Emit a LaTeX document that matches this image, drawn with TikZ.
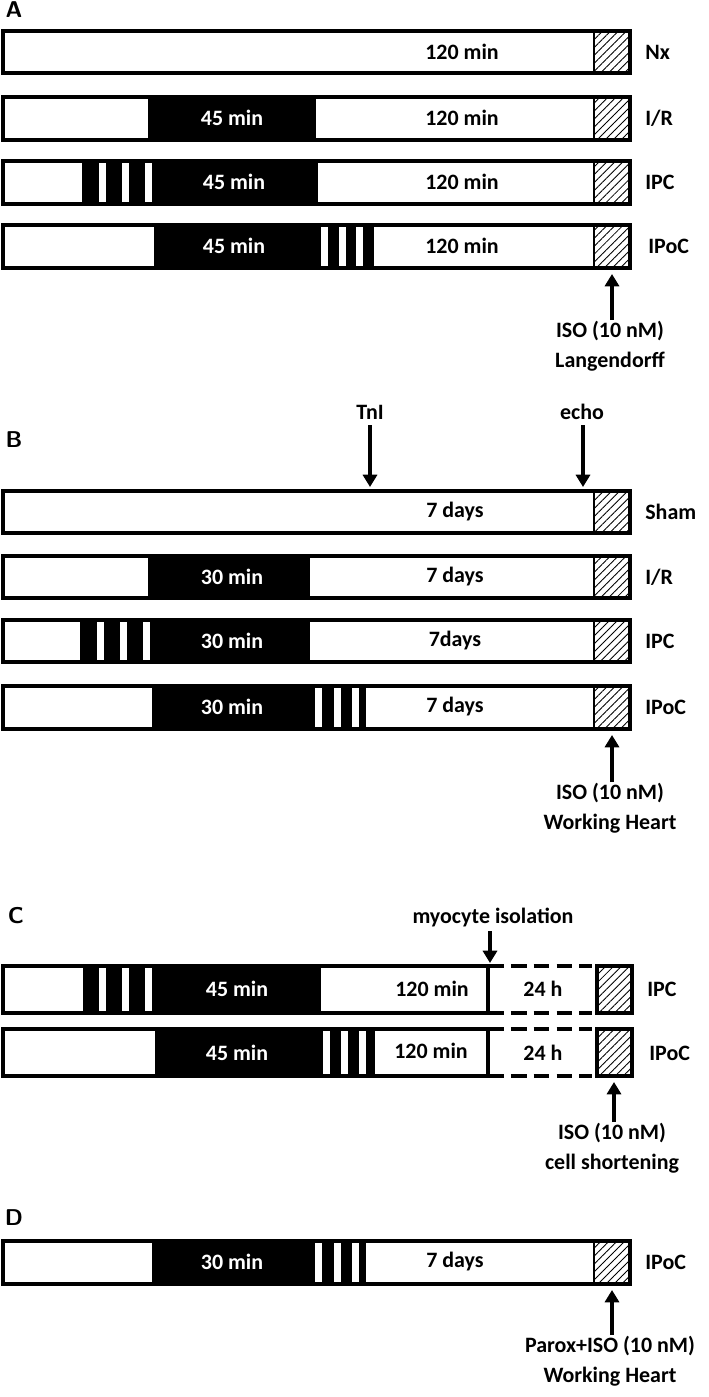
\documentclass[tikz,border=0pt]{standalone}
\usepackage{fontspec}
\setmainfont{Carlito}
\usetikzlibrary{patterns.meta,arrows.meta}
\newcommand{\stripes}[4]{\foreach \s in {0,1,2} \fill[white] (#1+\s*#4,#2) rectangle (#1+\s*#4+7,#3);}
\newcommand{\hatchbox}[4]{\fill[white] (#1,#2) rectangle (#3,#4);
  \fill[pattern={Lines[angle=45,distance=3.2pt,line width=0.5pt]}] (#1,#2) rectangle (#3,#4);
  \draw[line width=1.2pt] (#1,#2) -- (#1,#4);}
\begin{document}
\begin{tikzpicture}[x=0.02cm,y=-0.02cm,font=\fontsize{12.5}{14}\selectfont\bfseries]
  \tikzset{barline/.style = {line width=2.2pt},
           txt/.style = {inner sep=0pt},
           wtxt/.style = {inner sep=0pt,text=white},
           lbl/.style = {inner sep=0pt,anchor=west},
           panel/.style = {inner sep=0pt,font=\fontsize{13}{14}\selectfont\bfseries\sffamily},
           arr/.style = {line width=2.2pt,-{Triangle[length=7pt,width=8pt]}}};
  \useasboundingbox (0,0) rectangle (709,1397);
  % panel A
  \node[panel] (A) at (14,10) {A};
  \hatchbox{594}{31}{630}{73}
  \draw[barline] (3,31) rectangle (630,73);
  \node[txt] (a1t) at (462,52) {120 min};
  \node[lbl] (a1l) at (645,52) {Nx};
  \fill (148,97) rectangle (316,140);
  \hatchbox{594}{97}{630}{140}
  \draw[barline] (3,97) rectangle (630,140);
  \node[wtxt] (a2b) at (232,118) {45 min};
  \node[txt] (a2t) at (462,118) {120 min};
  \node[lbl] (a2l) at (645,118) {I/R};
  \fill (82,161) rectangle (318,204);
  \stripes{99}{161}{204}{23}
  \hatchbox{594}{161}{630}{204}
  \draw[barline] (3,161) rectangle (630,204);
  \node[wtxt] (a3b) at (234,182) {45 min};
  \node[txt] (a3t) at (462,182) {120 min};
  \node[lbl] (a3l) at (645,182) {IPC};
  \fill (154,225) rectangle (374,268);
  \stripes{321}{225}{268}{17.5}
  \hatchbox{594}{225}{630}{268}
  \draw[barline] (3,225) rectangle (630,268);
  \node[wtxt] (a4b) at (234,246) {45 min};
  \node[txt] (a4t) at (462,246) {120 min};
  \node[lbl] (a4l) at (648,246) {IPoC};
  \coordinate (a4h) at (612,274);
  \node[txt,align=center] (isoA) at (610,346) {ISO (10 nM)\\[3pt]Langendorff};
  \draw[arr] (612,320) -- (a4h);
  % panel B
  \node[panel] (B) at (14,440) {B};
  \node[txt] (tni) at (370,412) {TnI};
  \node[txt] (echo) at (582,412) {echo};
  \coordinate (tnih) at (370,487);
  \coordinate (echoh) at (583,487);
  \draw[arr] (370,425) -- (tnih);
  \draw[arr] (583,425) -- (echoh);
  \hatchbox{594}{491}{630}{533}
  \draw[barline] (3,491) rectangle (630,533);
  \node[txt] (b1t) at (455,512) {7 days};
  \node[lbl] (b1l) at (645,512) {Sham};
  \fill (148,556) rectangle (310,598);
  \hatchbox{594}{556}{630}{598}
  \draw[barline] (3,556) rectangle (630,598);
  \node[wtxt] (b2b) at (232,577) {30 min};
  \node[txt] (b2t) at (455,577) {7 days};
  \node[lbl] (b2l) at (645,577) {I/R};
  \fill (80,620) rectangle (310,662);
  \stripes{97}{620}{662}{23}
  \hatchbox{594}{620}{630}{662}
  \draw[barline] (3,620) rectangle (630,662);
  \node[wtxt] (b3b) at (232,641) {30 min};
  \node[txt] (b3t) at (455,641) {7days};
  \node[lbl] (b3l) at (645,641) {IPC};
  \fill (152,686) rectangle (366,729);
  \stripes{315}{686}{729}{18.5}
  \hatchbox{594}{686}{630}{729}
  \draw[barline] (3,686) rectangle (630,729);
  \node[wtxt] (b4b) at (232,707) {30 min};
  \node[txt] (b4t) at (455,707) {7 days};
  \node[lbl] (b4l) at (645,707) {IPoC};
  \coordinate (b4h) at (612,735);
  \node[txt,align=center] (isoB) at (610,808) {ISO (10 nM)\\[3pt]Working Heart};
  \draw[arr] (612,782) -- (b4h);
  % panel C
  \node[panel] (C) at (16,916) {C};
  \node[txt] (myo) at (493,917) {myocyte isolation};
  \coordinate (myoh) at (490,963);
  \draw[arr] (490,931) -- (myoh);
  \fill (83,966) rectangle (321,1013);
  \stripes{99}{966}{1013}{23}
  \hatchbox{597}{966}{632}{1013}
  \draw[barline] (597,966) rectangle (632,1013);
  \draw[barline] (488,966) -| (3,1013) -- (488,1013) -- cycle;
  \draw[barline,dash pattern=on 9pt off 4pt] (488,966) -- (592,966) (488,1013) -- (592,1013);
  \node[wtxt] (c1b) at (237,989) {45 min};
  \node[txt] (c1t) at (432,989) {120 min};
  \node[txt] (c1d) at (543,989) {24 h};
  \node[lbl] (c1l) at (647,989) {IPC};
  \fill (155,1029) rectangle (375,1076);
  \stripes{323}{1029}{1076}{18}
  \hatchbox{597}{1029}{632}{1076}
  \draw[barline] (597,1029) rectangle (632,1076);
  \draw[barline] (488,1029) -| (3,1076) -- (488,1076) -- cycle;
  \draw[barline,dash pattern=on 9pt off 4pt] (488,1029) -- (592,1029) (488,1076) -- (592,1076);
  \node[wtxt] (c2b) at (237,1053) {45 min};
  \node[txt] (c2t) at (431,1051) {120 min};
  \node[txt] (c2d) at (543,1053) {24 h};
  \node[lbl] (c2l) at (649,1053) {IPoC};
  \coordinate (c2h) at (614,1082);
  \node[txt,align=center] (isoC) at (612,1148) {ISO (10 nM)\\[3pt]cell shortening};
  \draw[arr] (614,1122) -- (c2h);
  % panel D
  \node[panel] (D) at (14,1218) {D};
  \fill (152,1241) rectangle (366,1284);
  \stripes{315}{1241}{1284}{18.5}
  \hatchbox{594}{1241}{630}{1284}
  \draw[barline] (3,1241) rectangle (630,1284);
  \node[wtxt] (d1b) at (232,1262) {30 min};
  \node[txt] (d1t) at (455,1262) {7 days};
  \node[lbl] (d1l) at (645,1262) {IPoC};
  \coordinate (d1h) at (612,1290);
  \node[txt,align=center] (isoD) at (610,1361) {Parox+ISO (10 nM)\\[3pt]Working Heart};
  \draw[arr] (612,1335) -- (d1h);
\end{tikzpicture}
\end{document}
